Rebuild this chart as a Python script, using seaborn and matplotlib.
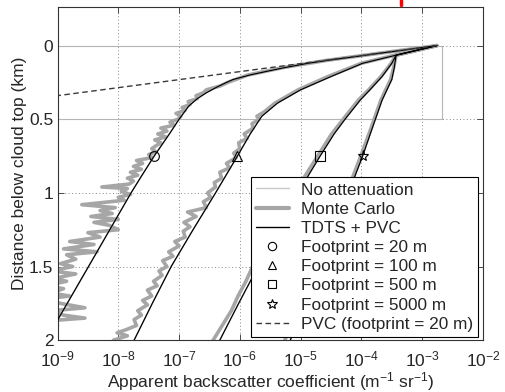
import numpy as np
import matplotlib
matplotlib.use("Agg")
import matplotlib.pyplot as plt
from matplotlib.lines import Line2D
from matplotlib.ticker import NullLocator, FixedLocator
import seaborn as sns

# ---------------- data (log10 of apparent backscatter, depth in km) -------------
tdts_20m_depth = [0, 0.05, 0.1, 0.12, 0.15, 0.175, 0.2, 0.23, 0.25, 0.28, 0.32, 0.36,
                  0.41, 0.5, 0.6, 0.75, 0.9, 1.0, 1.2, 1.4, 1.6, 1.8, 2.0]
tdts_20m_log = [-2.76, -3.66, -4.55, -4.88, -5.27, -5.56, -5.84, -6.11, -6.22, -6.37, -6.55, -6.70,
                -6.84, -7.0, -7.16, -7.41, -7.64, -7.79, -8.07, -8.35, -8.63, -8.91, -9.19]

tdts_100m_depth = [0, 0.03, 0.065, 0.12, 0.21, 0.3, 0.39, 0.48, 0.6, 0.75, 1.0, 1.25, 1.5, 1.75, 2.0]
tdts_100m_log = [-2.76, -3.07, -3.43, -3.98, -4.50, -5.0, -5.38, -5.64, -5.83, -6.04, -6.40, -6.77,
                 -7.13, -7.44, -7.74]

tdts_500m_depth = [0, 0.03, 0.065, 0.12, 0.21, 0.3, 0.37, 0.5, 0.6, 0.75, 0.9, 1.0, 1.25, 1.5, 1.75, 2.0]
tdts_500m_log = [-2.76, -3.07, -3.43, -3.50, -3.66, -3.86, -4.02, -4.27, -4.45, -4.68, -4.90, -5.04,
                 -5.36, -5.70, -6.02, -6.33]

tdts_5000m_depth = [0, 0.03, 0.065, 0.15, 0.23, 0.37, 0.57, 0.75, 0.9, 1.0, 1.25, 1.5, 1.75, 2.0]
tdts_5000m_log = [-2.76, -3.07, -3.43, -3.46, -3.50, -3.66, -3.83, -3.98, -4.12, -4.21, -4.45, -4.69,
                  -4.93, -5.17]

mc_20m_depth = [0, 0.05, 0.1, 0.15, 0.2, 0.25, 0.275, 0.3, 0.32, 0.34, 0.36, 0.38, 0.40, 0.42, 0.44,
                0.46, 0.48, 0.50, 0.52, 0.54, 0.56, 0.58, 0.60, 0.62, 0.64, 0.66, 0.68, 0.70, 0.72,
                0.74, 0.76, 0.78, 0.80, 0.82, 0.84, 0.86, 0.88, 0.90, 0.92, 0.94, 0.96, 0.97, 0.99,
                1.01, 1.03, 1.05, 1.08, 1.10, 1.12, 1.14, 1.16, 1.18, 1.20, 1.22, 1.25, 1.27, 1.30,
                1.33, 1.35, 1.38, 1.40, 1.42, 1.45, 1.48, 1.50, 1.53, 1.55, 1.58, 1.60, 1.63, 1.65,
                1.68, 1.70, 1.72, 1.75, 1.78, 1.80, 1.83, 1.85, 1.87, 1.90, 1.93, 1.96, 2.0]
mc_20m_log = [-2.76, -3.67, -4.57, -5.3, -5.87, -6.2, -6.33, -6.55, -6.6, -6.72, -6.7, -6.85, -6.82,
              -6.95, -6.9, -7.05, -6.97, -7.02, -7.15, -7.08, -7.3, -7.2, -7.35, -7.22, -7.4, -7.3,
              -7.38, -7.45, -7.38, -7.5, -7.44, -7.7, -7.6, -7.75, -7.62, -7.8, -7.68, -7.85, -7.75,
              -7.82, -8.27, -7.85, -7.95, -7.8, -8.0, -7.9, -8.6, -8.05, -8.3, -8.1, -8.45, -8.0,
              -8.4, -8.15, -8.0, -8.5, -8.3, -8.8, -8.4, -8.9, -8.35, -8.85, -8.7, -8.95, -8.75,
              -9.1, -8.7, -9.05, -8.85, -9.2, -8.9, -9.1, -8.8, -9.2, -8.95, -8.55, -9.1, -8.9,
              -8.55, -9.2, -9.0, -9.3, -9.1, -9.3]

mc_100m_depth = [0, 0.03, 0.065, 0.12, 0.21, 0.3, 0.39, 0.45, 0.48, 0.5, 0.53, 0.56, 0.6, 0.63,
                 0.66, 0.7, 0.73, 0.76, 0.8, 0.83, 0.86, 0.9, 0.93, 0.96, 1.0, 1.03, 1.06, 1.1, 1.13,
                 1.16, 1.2, 1.23, 1.26, 1.3, 1.33, 1.36, 1.4, 1.43, 1.46, 1.5, 1.53, 1.56, 1.6, 1.63,
                 1.66, 1.7, 1.73, 1.76, 1.8, 1.83, 1.86, 1.9, 1.93, 1.95, 1.97, 2.0]
mc_100m_log = [-2.76, -3.07, -3.45, -4.0, -4.55, -5.04, -5.42, -5.6, -5.72, -5.68, -5.8, -5.78,
               -5.93, -5.88, -6.02, -6.0, -6.1, -6.06, -6.22, -6.17, -6.33, -6.3, -6.42, -6.4,
               -6.53, -6.48, -6.6, -6.55, -6.86, -6.72, -6.92, -6.82, -6.93, -6.9, -7.07, -7.0,
               -7.17, -7.1, -7.27, -7.2, -7.33, -7.28, -7.42, -7.36, -7.52, -7.45, -7.6, -7.52,
               -7.68, -7.62, -7.74, -7.7, -7.88, -8.02, -7.85, -8.08]

mc_500m_depth = [0, 0.03, 0.065, 0.12, 0.21, 0.3, 0.37, 0.5, 0.6, 0.75, 0.9, 1.0, 1.1, 1.2, 1.3,
                 1.4, 1.5, 1.6, 1.7, 1.8, 1.9, 2.0]
mc_500m_log = [-2.76, -3.07, -3.43, -3.51, -3.68, -3.88, -4.05, -4.30, -4.49, -4.72, -4.95, -5.09,
               -5.23, -5.36, -5.49, -5.63, -5.79, -5.90, -6.03, -6.14, -6.29, -6.44]

mc_5000m_depth = [0, 0.03, 0.065, 0.15, 0.23, 0.37, 0.57, 0.75, 0.9, 1.0, 1.25, 1.5, 1.75, 2.0]
mc_5000m_log = [-2.76, -3.07, -3.43, -3.47, -3.52, -3.68, -3.85, -4.01, -4.15, -4.25, -4.51, -4.76,
                -5.01, -5.26]

pvc_depth = [0.0, 0.37]
pvc_log = [-2.76, -9.55]

marker_depth = [0.75, 0.75, 0.75, 0.75]
marker_log = [-7.41, -6.04, -4.68, -3.98]
marker_symbols = ["o", "^", "s", "*"]
footprints = ["20 m", "100 m", "500 m", "5000 m"]

box_x = [1e-9, 2.1e-3, 2.1e-3, 1e-9]
box_y = [0.0, 0.0, 0.5, 0.5]

xtick_vals = [1e-9, 1e-8, 1e-7, 1e-6, 1e-5, 1e-4, 1e-3, 1e-2]
ytick_vals = [0, 0.5, 1, 1.5, 2]
ytick_labels = ["0", "0.5", "1", "1.5", "2"]

# ---------------- style ----------------
sns.set_theme(style="ticks")
plt.rcParams["font.family"] = ["Liberation Sans", "DejaVu Sans"]
plt.rcParams["mathtext.fontset"] = "custom"
plt.rcParams["mathtext.rm"] = "Liberation Sans"
plt.rcParams["mathtext.it"] = "Liberation Sans:italic"
plt.rcParams["mathtext.default"] = "regular"

fig = plt.figure(figsize=(5.05, 3.92), dpi=100)
ax = fig.add_axes([57.5 / 505, 1 - 340.2 / 392, 425.5 / 505, 332.9 / 392])
ax.set_xscale("log")

NOATT_C = "#c8c8c8"
MC_C = "#a6a6a6"


def draw(depth, logv, color, lw, ls="-", z=2):
    sns.lineplot(x=10 ** np.asarray(logv, dtype=float), y=np.asarray(depth, dtype=float),
                 sort=False, estimator=None, color=color, lw=lw, ls=ls, ax=ax,
                 zorder=z, legend=False)


tdts = [(tdts_20m_depth, tdts_20m_log), (tdts_100m_depth, tdts_100m_log),
        (tdts_500m_depth, tdts_500m_log), (tdts_5000m_depth, tdts_5000m_log)]
mcs = [(mc_20m_depth, mc_20m_log), (mc_100m_depth, mc_100m_log),
       (mc_500m_depth, mc_500m_log), (mc_5000m_depth, mc_5000m_log)]

# box
sns.lineplot(x=box_x, y=box_y, sort=False, estimator=None, color="#b5b5b5", lw=0.8, ax=ax,
             zorder=1.5, legend=False)

for d, v in mcs:
    draw(d, v, MC_C, 2.6, z=2)
for d, v in tdts:
    draw(d, v, NOATT_C, 1.0, z=2.5)
for d, v in tdts:
    draw(d, v, "black", 0.9, z=3)
draw(pvc_depth, pvc_log, "#3a3a3a", 1.0, ls=(0, (4, 2.5)), z=3)

for dm, lm, mk in zip(marker_depth, marker_log, marker_symbols):
    sns.lineplot(x=[10 ** lm], y=[dm], marker=mk, markersize=8 if mk == "*" else 7,
                 markerfacecolor="none", markeredgecolor="black", markeredgewidth=0.8,
                 linestyle="", ax=ax, zorder=4, legend=False)

ax.set_xlim(1e-9, 1e-2)
ax.set_ylim(2, -0.26)
ax.xaxis.set_major_locator(FixedLocator(xtick_vals))
ax.xaxis.set_minor_locator(NullLocator())
ax.set_yticks(ytick_vals)
ax.set_yticklabels(ytick_labels)
ax.tick_params(direction="in", top=True, right=True, length=4, width=0.6, labelsize=12.5,
               color="#333333")
ax.tick_params(axis="x", pad=6.5)
ax.tick_params(axis="y", pad=3)
ax.grid(True, which="major", ls=(0, (1, 2.5)), color="#8a8a8a", lw=0.7)
for s in ax.spines.values():
    s.set_color("#333333")
    s.set_linewidth(0.8)

ax.set_xlabel("Apparent backscatter coefficient (m$^{-1}$ sr$^{-1}$)", fontsize=12.5)
ax.set_ylabel("Distance below cloud top (km)", fontsize=12.5)
ax.xaxis.set_label_coords(0.5, -0.09)
ax.yaxis.set_label_coords(-0.072, 0.5)

handles = [
    Line2D([], [], color=NOATT_C, lw=1.0),
    Line2D([], [], color=MC_C, lw=3.0),
    Line2D([], [], color="black", lw=1.0),
]
labels = ["No attenuation", "Monte Carlo", "TDTS + PVC"]
for mk, fp in zip(marker_symbols, footprints):
    handles.append(Line2D([], [], ls="", marker=mk, markersize=7 if mk == "*" else 6,
                          markerfacecolor="none", markeredgecolor="black", markeredgewidth=0.8))
    labels.append(f"Footprint = {fp}")
handles.append(Line2D([], [], color="#3a3a3a", lw=1.0, ls=(0, (4, 2.5))))
labels.append("PVC (footprint = 20 m)")

leg = ax.legend(handles, labels, loc="lower right", bbox_to_anchor=(0.988, 0.0096),
                fontsize=12.4, frameon=True, fancybox=False, edgecolor="black", framealpha=1,
                borderaxespad=0, handlelength=1.9, handletextpad=0.7, labelspacing=0.24,
                borderpad=0.3)
leg.get_frame().set_linewidth(0.8)
leg.set_zorder(10)

fig.add_artist(Line2D([401 / 505, 401 / 505], [1 - 5 / 392, 1.0], transform=fig.transFigure,
                      color="red", lw=2.5))

fig.savefig("out.png", dpi=100)
